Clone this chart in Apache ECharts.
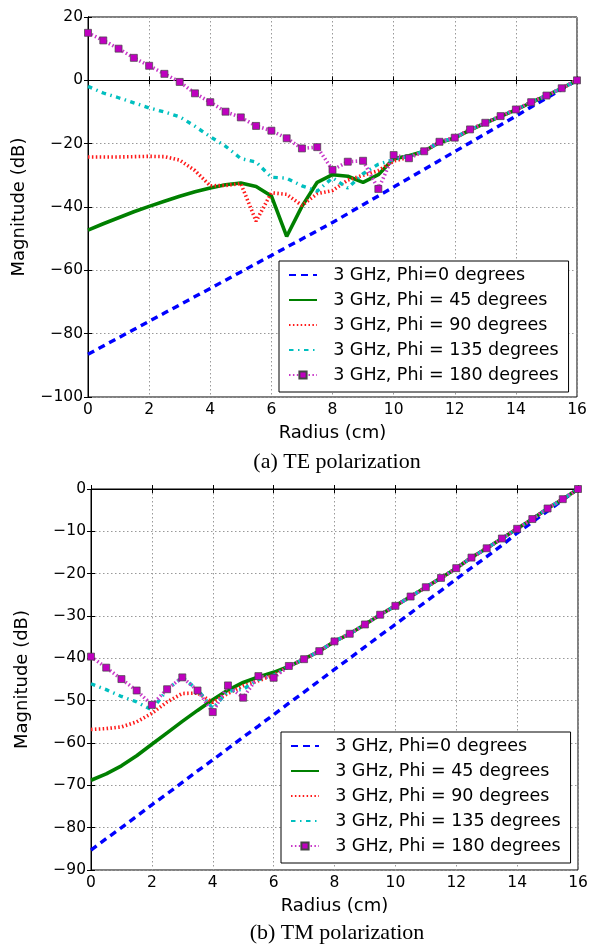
<!DOCTYPE html>
<html>
<head>
<meta charset="utf-8">
<script src="https://cdn.jsdelivr.net/npm/echarts@6/dist/echarts.min.js"></script>
<style>
html,body{margin:0;padding:0;background:#fff;}
#chart{width:592px;height:947px;}
</style>
</head>
<body>
<div id="chart"></div>
<script>
// ---- data ----
const radius = [0,0.5,1,1.5,2,2.5,3,3.5,4,4.5,5,5.5,6,6.5,7,7.5,8,8.5,9,9.5,10,10.5,11,11.5,12,12.5,13,13.5,14,14.5,15,15.5,16];
const seriesNames = ['3 GHz, Phi=0 degrees','3 GHz, Phi = 45 degrees','3 GHz, Phi = 90 degrees','3 GHz, Phi = 135 degrees','3 GHz, Phi = 180 degrees'];

// (a) TE polarization
const te_phi0   = [-86.5,-83.9,-81.3,-78.7,-76.1,-73.5,-70.9,-68.3,-65.7,-63.1,-60.5,-57.9,-55.3,-52.7,-50.1,-47.5,-44.9,-42.1,-39.3,-36.5,-33.7,-30.9,-28.1,-25.3,-22.5,-19.7,-16.9,-14.1,-11.3,-8.4,-5.6,-2.8,0];
const te_phi45  = [-47.3,-45.3,-43.4,-41.5,-39.8,-38.2,-36.6,-35.2,-34.0,-33.0,-32.4,-33.5,-36.5,-49.3,-39.8,-32.2,-29.8,-30.3,-32.2,-29.8,-24.8,-23.8,-22.4,-19.6,-18.2,-15.7,-13.5,-11.4,-9.3,-7.0,-4.8,-2.5,0];
const te_phi90  = [-24.2,-24.2,-24.2,-24.1,-24.0,-24.1,-25.2,-28.5,-33.3,-33.2,-32.6,-44.5,-35.5,-36.0,-39.5,-35.8,-34.8,-31.5,-30.0,-28.5,-25.5,-24.3,-22.4,-19.5,-18.1,-15.6,-13.4,-11.3,-9.2,-6.9,-4.8,-2.5,0];
const te_phi135 = [-1.9,-4.0,-5.5,-7.1,-8.7,-10.0,-11.5,-14.5,-17.8,-20.8,-24.7,-25.8,-30.6,-30.9,-33.3,-35.0,-30.8,-34.0,-29.5,-26.5,-25.0,-24.0,-22.4,-19.5,-18.1,-15.6,-13.4,-11.3,-9.2,-6.9,-4.8,-2.5,0];
const te_phi180 = [15.0,12.6,10.0,7.1,4.6,2.05,-0.5,-4.1,-6.9,-9.9,-11.7,-14.4,-15.9,-18.3,-21.5,-21.1,-28.3,-25.7,-25.4,-34.3,-23.6,-24.6,-22.4,-19.4,-18.1,-15.5,-13.4,-11.3,-9.2,-6.9,-4.8,-2.5,0];

// (b) TM polarization
const tm_phi0   = [-85.3,-82.6,-80.0,-77.3,-74.6,-72.0,-69.3,-66.6,-64.0,-61.3,-58.6,-56.0,-53.3,-50.6,-48.0,-45.3,-42.6,-40.0,-37.3,-34.6,-32.0,-29.3,-26.6,-24.0,-21.3,-18.6,-16.0,-13.3,-10.4,-7.8,-5.2,-2.6,0];
const tm_phi45  = [-68.8,-67.3,-65.4,-63.0,-60.3,-57.6,-54.9,-52.3,-49.8,-47.5,-45.7,-44.4,-43.3,-41.9,-40.2,-38.3,-36.0,-34.2,-32.0,-29.7,-27.6,-25.4,-23.2,-21.0,-18.7,-16.2,-14.0,-11.7,-9.4,-7.1,-4.6,-2.4,0];
const tm_phi90  = [-56.8,-56.6,-56.2,-55.0,-53.0,-50.3,-48.3,-48.2,-50.4,-48.3,-46.5,-45.3,-44.0,-41.9,-40.2,-38.3,-36.0,-34.2,-32.0,-29.7,-27.6,-25.4,-23.2,-21.0,-18.7,-16.2,-14.0,-11.7,-9.4,-7.1,-4.6,-2.4,0];
const tm_phi135 = [-46.0,-47.4,-49.0,-50.3,-52.2,-47.4,-44.5,-47.4,-51.8,-47.8,-47.3,-45.0,-44.0,-41.9,-40.2,-38.3,-36.0,-34.2,-32.0,-29.7,-27.6,-25.4,-23.2,-21.0,-18.7,-16.2,-14.0,-11.7,-9.4,-7.1,-4.6,-2.4,0];
const tm_phi180 = [-39.6,-42.2,-44.9,-47.6,-51.0,-47.3,-44.5,-47.6,-52.7,-46.4,-49.3,-44.2,-44.6,-41.8,-40.2,-38.3,-36.0,-34.2,-32.0,-29.7,-27.6,-25.4,-23.2,-21.0,-18.7,-16.2,-14.0,-11.7,-9.4,-7.1,-4.6,-2.4,0];

const xTicks = [0,2,4,6,8,10,12,14,16];
const teYTicks = [20,0,-20,-40,-60,-80,-100];
const tmYTicks = [0,-10,-20,-30,-40,-50,-60,-70,-80,-90];
const captions = ['(a) TE polarization','(b) TM polarization'];
const xName = 'Radius (cm)';
const yName = 'Magnitude (dB)';

// ---- chart ----
const FONT = 'DejaVu Sans';
const TICK_FS = 15.5;
const NAME_FS = 18;
const LEG_FS = 17.5;
const fmt = v => String(v).replace('-', '\u2212');
const pair = arr => arr.map((v,i)=>[radius[i], v]);

const styles = [
  {color:'#0000ff', width:3.4, type:[7,5], symbol:'none'},
  {color:'#008000', width:3.6, type:'solid', symbol:'none'},
  {color:'#ff1a1a', width:3.6, type:[1.5,2.4], symbol:'none'},
  {color:'#00bfbf', width:3.4, type:[4.5,4.5,1.5,4.5], symbol:'none'},
  {color:'#c838c8', width:3.6, type:[1.5,2.4], symbol:'rect'}
];

const grids = [
  {left:88, right:15, top:17, height:380, show:true, borderColor:'#000', borderWidth:1, backgroundColor:'transparent'},
  {left:91, right:14, top:489, height:381, show:true, borderColor:'#000', borderWidth:1, backgroundColor:'transparent'}
];

function mkX(gi, top){
  return {
    type:'value', gridIndex:gi, min:0, max:16, interval:2,
    position: top ? 'top' : 'bottom',
    name: top ? '' : xName, nameLocation:'middle', nameGap:27,
    nameTextStyle:{fontFamily:FONT, fontSize:NAME_FS, color:'#000'},
    axisLine:{show:true, lineStyle:{color:'#000', width:1}},
    axisTick:{show:true, inside:true, length:4, lineStyle:{color:'#000'}},
    axisLabel:{show:!top, fontFamily:FONT, fontSize:TICK_FS, color:'#000', margin:5, formatter:fmt},
    splitLine:{show:!top, lineStyle:{color:'#999', type:[1.5,2.5], width:1}}
  };
}
function mkY(gi, right, mn, mx, iv){
  return {
    type:'value', gridIndex:gi, min:mn, max:mx, interval:iv,
    position: right ? 'right' : 'left',
    name: right ? '' : yName, nameLocation:'middle', nameGap:60, nameRotate:90,
    nameTextStyle:{fontFamily:FONT, fontSize:NAME_FS, color:'#000'},
    axisLine:{show:true, lineStyle:{color:'#000', width:1}},
    axisTick:{show:true, inside:true, length:4, lineStyle:{color:'#000'}},
    axisLabel:{show:!right, fontFamily:FONT, fontSize:TICK_FS, color:'#000', margin:5, formatter:fmt},
    splitLine:{show:!right, lineStyle:{color:'#999', type:[1.5,2.5], width:1}}
  };
}

const teData = [te_phi0, te_phi45, te_phi90, te_phi135, te_phi180];
const tmData = [tm_phi0, tm_phi45, tm_phi90, tm_phi135, tm_phi180];

function mkSeries(dataSets, gi){
  return dataSets.map((d,k)=>{
    const s = styles[k];
    const hasSym = s.symbol !== 'none';
    return {
      type:'line', name:seriesNames[k], xAxisIndex:gi*2, yAxisIndex:gi*2,
      data: pair(d),
      symbol: hasSym ? 'rect' : 'circle', symbolSize: 7, showSymbol: hasSym,
      itemStyle: hasSym ? {color:'#bf00bf', borderColor:'#444', borderWidth:0.7}
                        : {color:'rgba(0,0,0,0)', borderWidth:0, opacity:0},
      lineStyle:{color:s.color, width:s.width, type:s.type},
      z: 2 + k,
      clip:false
    };
  });
}

const legendData = seriesNames.map((n,k)=> styles[k].symbol === 'none'
  ? {name:n, itemStyle:{opacity:0}} : {name:n});

const legendCommon = {
  orient:'vertical', data:legendData,
  itemWidth:28, itemHeight:9, itemGap:7,
  padding:[5,10,8,9],
  borderColor:'#000', borderWidth:1, backgroundColor:'#fff',
  textStyle:{fontFamily:FONT, fontSize:LEG_FS, color:'#000'},
  formatter: n => '  ' + n,
  selectedMode:false
};

const option = {
  animation:false,
  backgroundColor:'#fff',
  title:[
    {text:captions[0], left:332, top:446, textAlign:'center', textStyle:{fontFamily:'Liberation Serif', fontSize:22, fontWeight:'normal', color:'#000'}},
    {text:captions[1], left:332, top:917, textAlign:'center', textStyle:{fontFamily:'Liberation Serif', fontSize:22, fontWeight:'normal', color:'#000'}}
  ],
  grid: grids,
  xAxis:[mkX(0,false), mkX(0,true), mkX(1,false), mkX(1,true)],
  yAxis:[mkY(0,false,-100,20,20), mkY(0,true,-100,20,20), mkY(1,false,-90,0,10), mkY(1,true,-90,0,10)],
  legend:[
    Object.assign({left:279, top:261}, legendCommon),
    Object.assign({left:281, top:732}, legendCommon)
  ],
  series: mkSeries(teData,0).concat(mkSeries(tmData,1))
};

const chart = echarts.init(document.getElementById('chart'), null, {renderer:'canvas'});
chart.setOption(option);
</script>
</body>
</html>
